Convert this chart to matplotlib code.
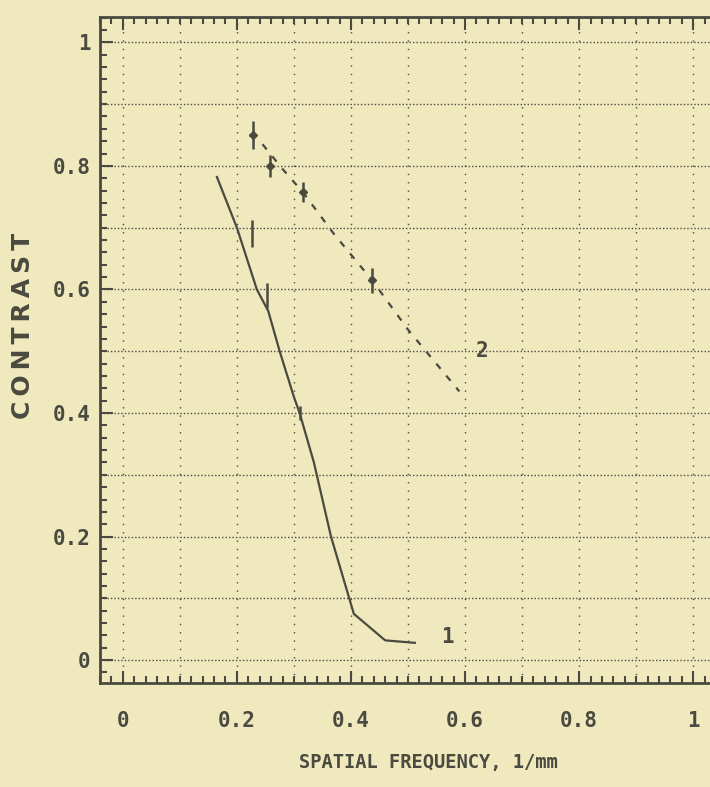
import numpy as np
import matplotlib.pyplot as plt
from matplotlib.ticker import MultipleLocator

# curve 1 (solid)
freq1 = [0.165, 0.200, 0.235, 0.255, 0.275, 0.300, 0.310, 0.335, 0.365, 0.405, 0.460, 0.512]
contrast1 = [0.782, 0.700, 0.600, 0.565, 0.500, 0.426, 0.400, 0.320, 0.200, 0.075, 0.032, 0.028]
err1_x = [0.226, 0.253, 0.310]
err1_y = [0.690, 0.590, 0.400]
err1_e = [0.022, 0.020, 0.012]

# curve 2 (dashed) and its measured points
freq2 = [0.245, 0.280, 0.316, 0.370, 0.437, 0.500, 0.590]
contrast2 = [0.835, 0.795, 0.757, 0.690, 0.615, 0.535, 0.435]
pts2_x = [0.228, 0.258, 0.316, 0.437]
pts2_y = [0.850, 0.800, 0.758, 0.615]
pts2_e = [0.022, 0.018, 0.016, 0.020]

xticks = [0, 0.2, 0.4, 0.6, 0.8, 1.0]
xtick_labels = ["0", "0.2", "0.4", "0.6", "0.8", "1"]
yticks = [0, 0.2, 0.4, 0.6, 0.8, 1.0]
ytick_labels = ["0", "0.2", "0.4", "0.6", "0.8", "1"]

bg = "#efe9bd"
ink = "#4a4a40"
mono = "DejaVu Sans Mono"

fig = plt.figure(figsize=(7.1, 7.87), dpi=100)
fig.patch.set_facecolor(bg)
ax = fig.add_axes([100 / 710, 104 / 787, 620 / 710, 666 / 787])
ax.set_facecolor(bg)

ax.set_xlim(-0.04, 1.047)
ax.set_ylim(-0.037, 1.041)

# grid
for gy in np.arange(0, 1.01, 0.1):
    ax.axhline(gy, color=ink, lw=1.0, ls=(0, (1, 1.5)), zorder=1)
for gx in np.arange(0, 1.01, 0.1):
    ax.axvline(gx, color=ink, lw=1.0, ls=(0, (1, 5)), zorder=1)

ax.plot(freq1, contrast1, color=ink, lw=1.6, zorder=3)
ax.errorbar(err1_x, err1_y, yerr=err1_e, fmt="none", ecolor=ink, elinewidth=1.8, capsize=0, zorder=3)

ax.plot(freq2, contrast2, color=ink, lw=1.6, ls=(0, (3, 4)), zorder=3)
ax.errorbar(pts2_x, pts2_y, yerr=pts2_e, xerr=0.006, fmt="D", ms=4, color=ink,
            elinewidth=1.8, capsize=0, zorder=3)

ax.text(0.57, 0.037, "1", fontsize=15, fontweight="bold", family=mono, color=ink,
        ha="center", va="center")
ax.text(0.63, 0.50, "2", fontsize=15, fontweight="bold", family=mono, color=ink,
        ha="center", va="center")

ax.set_xticks(xticks)
ax.set_xticklabels(xtick_labels)
ax.set_yticks(yticks)
ax.set_yticklabels(ytick_labels)
ax.xaxis.set_minor_locator(MultipleLocator(0.02))
ax.yaxis.set_minor_locator(MultipleLocator(0.02))
ax.tick_params(which="both", direction="in", top=True, right=False, color=ink, width=1.5)
ax.tick_params(which="major", length=9)
ax.tick_params(which="minor", length=5)
ax.tick_params(axis="y", pad=7)
ax.tick_params(axis="x", pad=20)
for lab in ax.get_xticklabels() + ax.get_yticklabels():
    lab.set_family(mono)
    lab.set_fontweight("bold")
    lab.set_fontsize(15)
    lab.set_color(ink)

for side in ["left", "bottom", "top"]:
    ax.spines[side].set_color(ink)
    ax.spines[side].set_linewidth(2)
ax.spines["right"].set_visible(False)

ax.set_xlabel("SPATIAL FREQUENCY, 1/mm", family=mono, fontweight="bold",
              fontsize=13.5, color=ink)
ax.xaxis.set_label_coords(0.53, -0.105)
ax.set_ylabel("\u2009".join("CONTRAST"), family="DejaVu Sans", fontweight="bold",
              fontsize=18, color=ink)
ax.yaxis.set_label_coords(-0.105, 0.536)

fig.savefig("out.png", dpi=100, facecolor=bg)
